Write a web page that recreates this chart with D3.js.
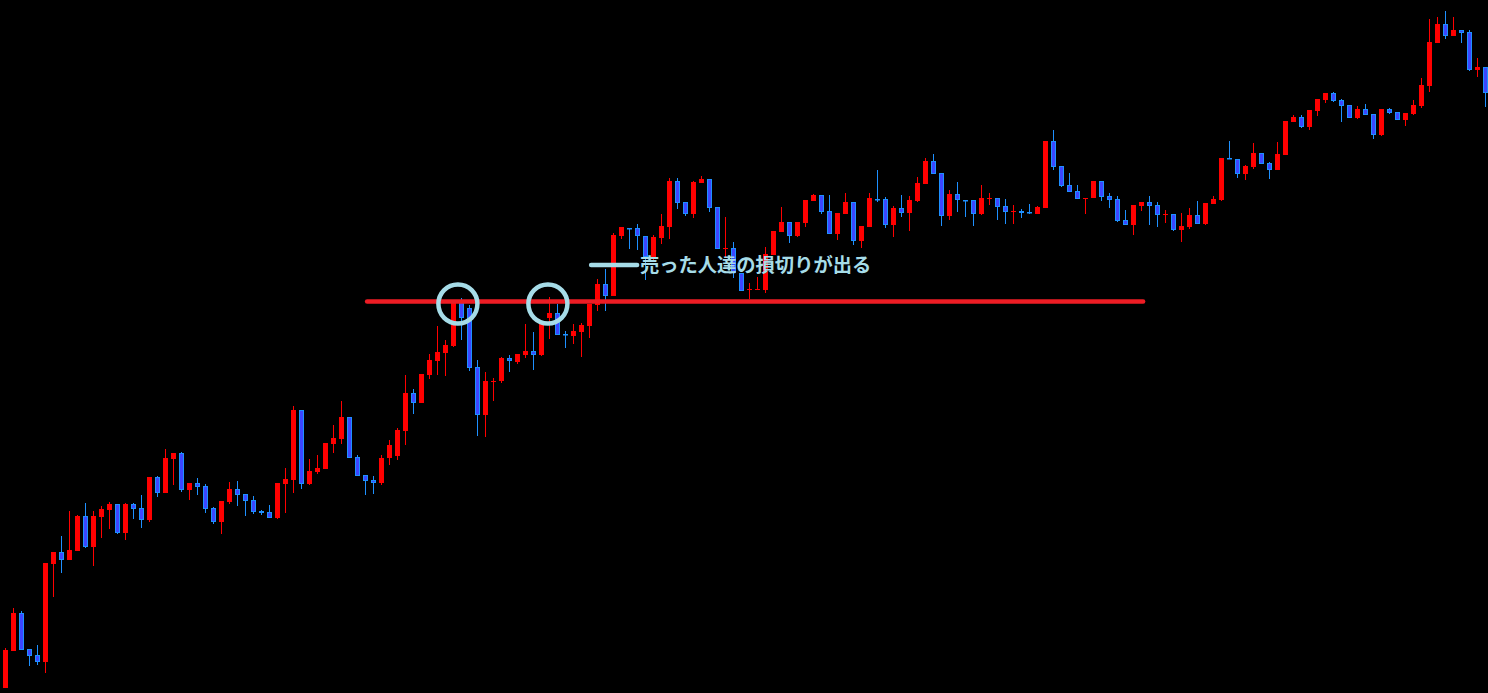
<!DOCTYPE html>
<html>
<head>
<meta charset="utf-8">
<script src="https://cdn.jsdelivr.net/npm/d3@7"></script>
<style>
html,body{margin:0;padding:0;background:#000;overflow:hidden;}
svg{display:block;}
</style>
</head>
<body>
<svg id="chart" width="1488" height="693"></svg>
<script>
// candle series (price units), index = bar number
const open = [12,49,87,51,45,38,136,148,140,149,184,153,183,190,196,167,196,192,180,223,207,241,247,210,217,214,192,178,198,211,206,200,189,188,182,216,220,290,216,228,231,256,261,283,243,225,220,217,242,244,269,307,297,325,339,347,354,398,392,333,285,318,319,342,338,345,349,345,382,387,366,364,368,374,395,416,404,464,472,472,464,443,462,473,519,498,486,517,521,493,451,452,427,410,410,410,445,468,478,464,477,499,505,489,466,486,498,459,473,501,501,475,492,487,499,516,539,527,484,506,500,500,486,501,502,494,488,489,488,486,492,559,534,515,509,501,502,519,504,501,480,475,494,498,495,485,486,470,473,485,476,496,500,542,541,526,533,547,537,530,545,578,583,573,589,600,607,600,595,582,591,586,565,591,588,580,586,594,614,657,676,664,670,668,630,633];
const high = [52,92,89,51,55,137,148,164,189,185,197,189,194,198,196,197,197,205,223,224,251,247,248,217,222,216,193,199,218,219,206,204,190,195,217,232,294,290,241,245,257,275,299,283,245,225,224,245,260,272,325,311,326,346,374,360,400,402,395,340,328,322,343,345,346,376,368,378,403,396,369,376,377,396,421,431,467,473,472,476,464,465,486,522,522,498,519,524,521,493,483,458,427,417,423,453,469,493,478,478,500,506,505,505,487,507,498,474,507,530,503,494,505,504,523,542,546,527,510,518,500,500,515,507,502,501,495,491,496,494,559,570,534,527,515,502,519,519,507,504,490,495,498,504,498,490,486,487,492,499,497,504,542,559,541,535,557,547,538,558,579,585,585,590,601,607,608,601,595,594,596,586,591,592,588,587,600,622,681,683,689,683,670,670,642,633];
const low = [12,49,50,34,35,27,103,127,140,149,152,134,162,171,166,160,181,172,178,203,207,215,208,200,205,187,176,166,196,194,184,186,185,182,181,187,207,211,215,226,231,247,256,242,224,205,206,215,235,240,255,286,297,321,325,324,353,360,329,264,263,299,317,328,336,342,330,344,361,365,352,356,343,362,389,389,404,461,451,450,420,440,456,461,491,484,482,517,488,451,443,422,409,401,410,407,445,468,457,463,473,499,486,466,460,486,455,452,473,498,472,463,483,469,498,516,526,474,480,488,483,474,485,495,480,476,476,482,486,486,492,530,513,508,501,486,502,499,492,478,475,465,489,475,473,477,469,458,471,476,475,496,499,541,522,520,531,536,521,530,545,578,572,570,584,597,598,578,582,581,585,561,564,586,580,574,585,592,608,657,661,664,657,629,623,593];
const close = [50,87,50,44,38,137,148,140,150,184,153,184,191,196,167,196,191,180,223,207,242,247,210,217,213,191,178,199,211,205,199,188,187,182,217,221,290,216,229,232,257,262,283,242,224,219,217,242,255,270,307,297,326,340,348,355,398,382,332,285,319,319,342,339,346,349,345,378,387,365,365,369,375,396,416,404,465,473,471,464,443,463,474,519,497,486,518,521,492,451,452,427,409,411,411,446,469,478,464,478,500,505,488,466,487,498,459,474,502,500,475,492,487,500,517,539,526,484,506,500,499,486,502,502,493,488,489,487,487,493,559,533,514,508,501,502,519,503,500,479,475,495,498,494,485,486,470,474,485,476,497,501,542,541,526,534,547,536,530,546,579,583,573,590,601,607,599,594,582,591,585,565,591,587,580,587,595,615,658,676,664,670,667,630,633,607];

// annotation values
const resistanceLevel = 398.5;          // horizontal red line
const resistanceSpan = [45.2, 142.2];   // bar index range
const circleMarks = [{bar: 56.55, price: 396}, {bar: 67.8, price: 396}];
const dashSpan = [73.2, 78.95];
const dashPrice = 435;
const labelBar = 79.3;
const labelPrice = 428;
const labelText = "売った人達の損切りが出る";

const W = 1488, H = 693;
const svg = d3.select("#chart");
svg.append("rect").attr("width", W).attr("height", H).attr("fill", "#000");

const n = open.length;
const x = d3.scaleLinear().domain([0, n - 1]).range([5.5, 5.5 + 8 * (n - 1)]);
const y = d3.scaleLinear().domain([7, 700]).range([H, 0]);

const bars = d3.range(n).map(i => ({i, o: open[i], h: high[i], l: low[i], c: close[i]}));
const RED = "#ff0000", BLUE_FILL = "#3c46ff", BLUE_EDGE = "#1e90ff";

const g = svg.append("g");
// wicks
g.selectAll("line.wick").data(bars).join("line")
  .attr("class", "wick")
  .attr("x1", d => x(d.i)).attr("x2", d => x(d.i))
  .attr("y1", d => y(d.h)).attr("y2", d => y(d.l))
  .attr("stroke", d => d.c >= d.o ? RED : BLUE_EDGE)
  .attr("stroke-width", 1);

// bodies
g.selectAll("rect.body").data(bars).join("rect")
  .attr("class", "body")
  .attr("x", d => d.c >= d.o ? x(d.i) - 2.5 : x(d.i) - 2)
  .attr("width", d => d.c >= d.o ? 5 : 4)
  .attr("y", d => {
    const t = Math.min(y(d.o), y(d.c));
    return d.c >= d.o ? t : t + 0.5;
  })
  .attr("height", d => {
    const hgt = Math.abs(y(d.o) - y(d.c));
    return d.c >= d.o ? Math.max(hgt, 1) : Math.max(hgt - 1, 0.5);
  })
  .attr("fill", d => d.c >= d.o ? RED : BLUE_FILL)
  .attr("stroke", d => d.c >= d.o ? "none" : BLUE_EDGE)
  .attr("stroke-width", 1);

// resistance line
svg.append("line")
  .attr("x1", x(resistanceSpan[0])).attr("x2", x(resistanceSpan[1]))
  .attr("y1", y(resistanceLevel)).attr("y2", y(resistanceLevel))
  .attr("stroke", "#ed1c24").attr("stroke-width", 4.5).attr("stroke-linecap", "round");

// circles
const LB = "#a6dce8";
svg.selectAll("circle.mark").data(circleMarks).join("circle")
  .attr("class", "mark")
  .attr("cx", d => x(d.bar)).attr("cy", d => y(d.price))
  .attr("r", 19.5)
  .attr("fill", "none").attr("stroke", LB).attr("stroke-width", 4.5);

// dash + label
svg.append("line")
  .attr("x1", x(dashSpan[0])).attr("x2", x(dashSpan[1]))
  .attr("y1", y(dashPrice)).attr("y2", y(dashPrice))
  .attr("stroke", LB).attr("stroke-width", 4.5).attr("stroke-linecap", "round");

svg.append("text")
  .attr("x", x(labelBar)).attr("y", y(labelPrice))
  .attr("fill", LB)
  .attr("font-family", "'Noto Sans CJK JP', sans-serif")
  .attr("font-weight", "bold")
  .attr("font-size", "19.3px")
  .text(labelText);
</script>
</body>
</html>
